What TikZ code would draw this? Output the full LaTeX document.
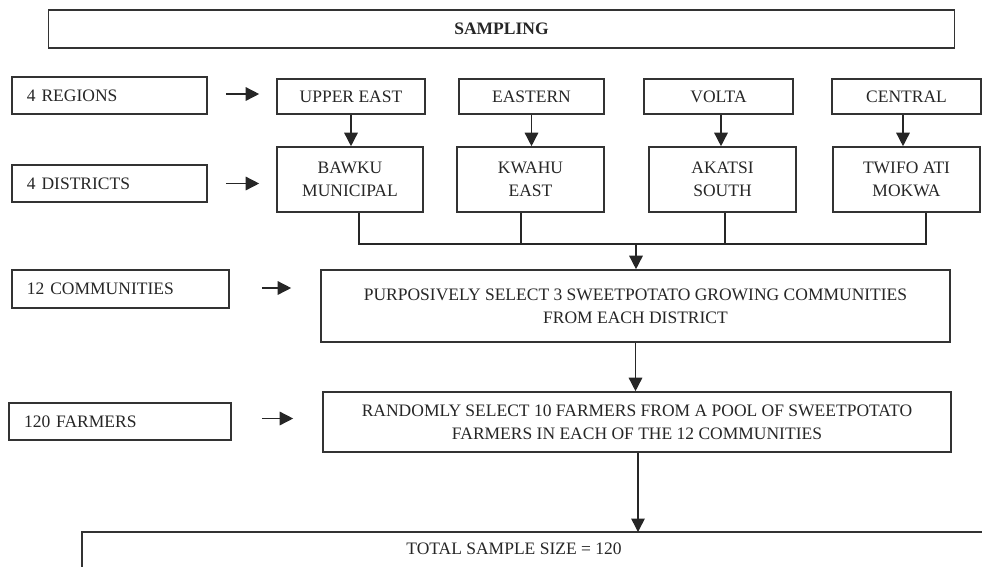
\documentclass[tikz,border=0pt]{standalone}
\usepackage{fontspec}
\setmainfont{Liberation Serif}
\usetikzlibrary{arrows.meta}
\begin{document}
\begin{tikzpicture}[x=1pt,y=-1pt,
  every node/.style={font=\fontsize{17.5}{23}\selectfont, text=black!85},
  box/.style={draw=black!80, line width=1.6pt, inner sep=0pt, align=center},
  lbox/.style={draw=black!80, line width=1.6pt, inner ysep=0pt, inner xsep=15pt, align=left, minimum height=37pt},
  arr/.style={draw=black!85, line width=1.5pt, -{Triangle[width=13.5pt,length=13.5pt]}},
  link/.style={draw=black!85, line width=1.5pt}]
\useasboundingbox (0,0) rectangle (982,566);
\clip (0,0) rectangle (982,566);

% title
\node[box, minimum width=906pt, minimum height=38pt, font=\fontsize{17.5}{23}\selectfont\bfseries] (samp) at (501.5,29) {SAMPLING};

% regions
\node[lbox, text width=165pt] (reg) at (109.5,95.5) {4 REGIONS};
\node[box, minimum width=148pt, minimum height=35pt] (ue) at (351,96.5) {UPPER EAST};
\node[box, minimum width=145pt, minimum height=35pt] (ea) at (531.5,96.5) {EASTERN};
\node[box, minimum width=149pt, minimum height=35pt] (vo) at (718.5,96.5) {VOLTA};
\node[box, minimum width=149pt, minimum height=35pt] (ce) at (906.5,96.5) {CENTRAL};

% districts
\node[lbox, text width=165pt] (dis) at (109.5,183.5) {4 DISTRICTS};
\node[box, minimum width=146pt, minimum height=65pt] (bm) at (350,179.5) {BAWKU\\MUNICIPAL};
\node[box, minimum width=147pt, minimum height=65pt] (ke) at (530.5,179.5) {KWAHU\\EAST};
\node[box, minimum width=147pt, minimum height=65pt] (as) at (722.5,179.5) {AKATSI\\SOUTH};
\node[box, minimum width=147pt, minimum height=65pt] (tm) at (906.5,179.5) {TWIFO ATI\\MOKWA};

% communities
\node[lbox, text width=187pt, minimum height=38pt] (com) at (120.5,289) {12 COMMUNITIES};
\node[box, minimum width=629pt, minimum height=72pt] (pur) at (635.5,306) {PURPOSIVELY SELECT 3 SWEETPOTATO GROWING COMMUNITIES\\FROM EACH DISTRICT};

% farmers
\node[lbox, text width=192pt] (far) at (120,421.5) {120 FARMERS};
\node[box, minimum width=628pt, minimum height=60pt] (ran) at (637,422) {RANDOMLY SELECT 10 FARMERS FROM A POOL OF SWEETPOTATO\\FARMERS IN EACH OF THE 12 COMMUNITIES};

% total
\draw[draw=black!80, line width=1.6pt] (82,532) rectangle (1010,600);
\node (tot) at (514,549) {TOTAL SAMPLE SIZE = 120};
\coordinate (tottop) at (638,532);

% side arrows
\draw[arr] ([xshift=18pt,yshift=1.5pt]reg.east) -- ([xshift=-17pt,yshift=1.5pt]reg.east -| ue.west);
\draw[arr] ([xshift=18pt]dis.east) -- ([xshift=-17pt]dis.east -| bm.west);
\draw[arr] ([xshift=32pt,yshift=1pt]com.east) -- ([xshift=-29pt,yshift=1pt]com.east -| pur.west);
\draw[arr] ([xshift=30pt,yshift=3pt]far.east) -- ([xshift=-29pt,yshift=3pt]far.east -| ran.west);

% region to district arrows
\draw[arr] (ue.south) -- (ue.south |- bm.north);
\draw[arr] (ea.south) -- (ea.south |- ke.north);
\draw[arr] ([xshift=2.5pt]vo.south) -- ([xshift=2.5pt]vo.south |- as.north);
\draw[arr] ([xshift=-3.5pt]ce.south) -- ([xshift=-3.5pt]ce.south |- tm.north);

% district joins
\coordinate (j) at (636,244);
\coordinate (b1) at ([xshift=9pt]bm.south);
\coordinate (b2) at ([xshift=-9.5pt]ke.south);
\coordinate (b3) at ([xshift=2.5pt]as.south);
\coordinate (b4) at ([xshift=19.5pt]tm.south);
\draw[link] (b1) |- (j) -| (b4);
\draw[link] (b2) -- (b2 |- j);
\draw[link] (b3) -- (b3 |- j);
\draw[arr] (j) -- (j |- pur.north);

% downstream arrows
\draw[arr] (pur.south) -- (pur.south |- ran.north);
\draw[arr] ([xshift=1pt]ran.south) -- (tottop);
\end{tikzpicture}
\end{document}
